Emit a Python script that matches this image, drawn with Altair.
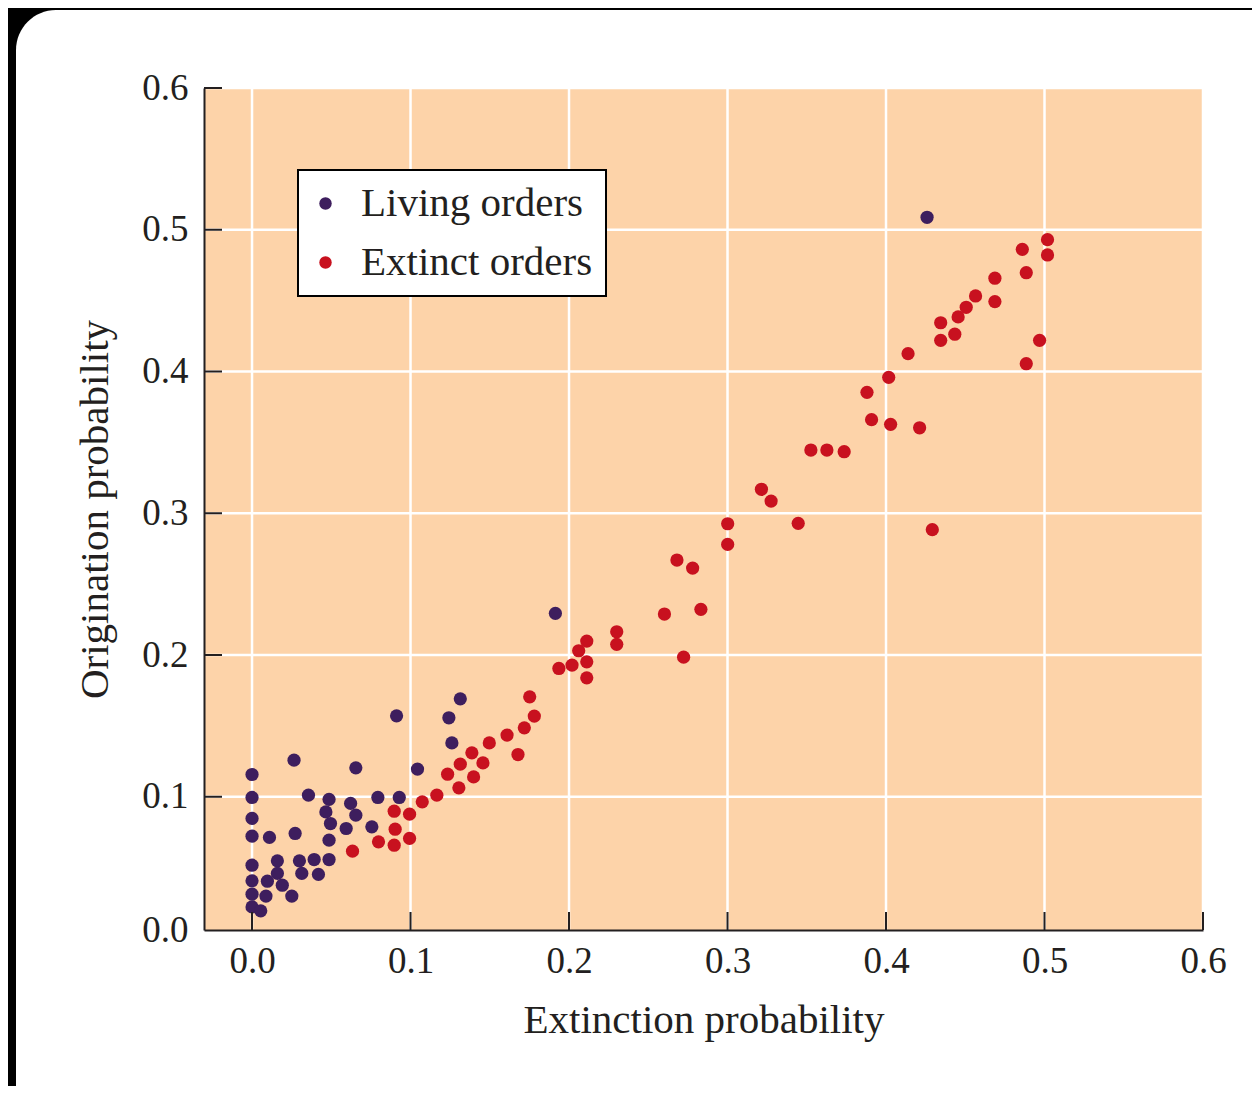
import altair as alt
import pandas as pd

# ---- data ----
living_x = [0.0, 0.0, 0.0, 0.0, 0.0, 0.0, 0.0, 0.0, 0.0055, 0.0088, 0.0097, 0.011,
            0.016, 0.016, 0.0191, 0.0251, 0.0265, 0.0272, 0.0299, 0.0314, 0.0356,
            0.0392, 0.0419, 0.0486, 0.0466, 0.0495, 0.0486, 0.0486, 0.0594, 0.0622,
            0.0655, 0.0655, 0.0756, 0.0794, 0.0912, 0.0929, 0.1044, 0.1242, 0.1261,
            0.1314, 0.1914, 0.4259]
living_y = [0.1157, 0.0995, 0.0847, 0.0722, 0.0517, 0.0407, 0.0313, 0.0223, 0.0195,
            0.0299, 0.0404, 0.0713, 0.0548, 0.0459, 0.0376, 0.0299, 0.1258, 0.0741,
            0.0548, 0.0459, 0.1011, 0.0557, 0.0452, 0.0981, 0.0893, 0.0811, 0.0694,
            0.0557, 0.0776, 0.0953, 0.087, 0.1204, 0.0788, 0.0995, 0.1571, 0.0995,
            0.1195, 0.1557, 0.138, 0.1691, 0.2294, 0.5088]

extinct_x = [0.0634, 0.0798, 0.0897, 0.0903, 0.0897, 0.0994, 0.0994, 0.1074, 0.1166,
             0.1234, 0.1305, 0.1314, 0.1387, 0.1457, 0.1398, 0.1497, 0.1609, 0.1678,
             0.1718, 0.1752, 0.1781,
             0.1936, 0.2019, 0.2061, 0.2112, 0.2112, 0.2112, 0.2301, 0.2301, 0.2602,
             0.2723,
             0.2832, 0.2681, 0.278, 0.3001, 0.3001, 0.3214, 0.3275, 0.3446, 0.3526,
             0.3627, 0.3736, 0.3909, 0.4029, 0.4212, 0.4292,
             0.388, 0.4017, 0.4139, 0.4345, 0.4345, 0.4434, 0.4455, 0.4506, 0.4565,
             0.4687, 0.4687, 0.486, 0.4885, 0.5019, 0.5019, 0.4969, 0.4885]
extinct_y = [0.0616, 0.0682, 0.0898, 0.0771, 0.0658, 0.0877, 0.0706, 0.0964, 0.1011,
             0.1159, 0.1063, 0.123, 0.131, 0.1239, 0.114, 0.138, 0.1435, 0.1298,
             0.1486, 0.1705, 0.1569,
             0.1905, 0.1929, 0.203, 0.2098, 0.1952, 0.1839, 0.2164, 0.2075, 0.2289,
             0.1985,
             0.2322, 0.267, 0.2613, 0.2926, 0.278, 0.3169, 0.3086, 0.2929, 0.3446,
             0.3446, 0.3434, 0.366, 0.3627, 0.3603, 0.2884,
             0.3853, 0.3959, 0.4126, 0.422, 0.4344, 0.4263, 0.4385, 0.4453, 0.4533,
             0.4493, 0.4658, 0.4862, 0.4697, 0.493, 0.4822, 0.422, 0.4055]

groups = ["Living orders", "Extinct orders"]
x_ticks = [0.0, 0.1, 0.2, 0.3, 0.4, 0.5, 0.6]
y_ticks = [0.1, 0.2, 0.3, 0.4, 0.5, 0.6]

# ---- styling ----
W, H = 999, 842
X_DOMAIN = [-0.0303, 0.6]
Y_DOMAIN = [0.006, 0.6]
PURPLE = "#3e1e5e"
RED = "#c8111f"
PEACH = "#fdd3a9"
INK = "#231f20"
FONT = "Liberation Serif"

df = pd.DataFrame({
    "extinction": living_x + extinct_x,
    "origination": living_y + extinct_y,
    "group": [groups[0]] * len(living_x) + [groups[1]] * len(extinct_x),
    "order": [0] * len(living_x) + [1] * len(extinct_x),
})

xscale = alt.Scale(domain=X_DOMAIN, nice=False, zero=False)
yscale = alt.Scale(domain=Y_DOMAIN, nice=False, zero=False)
xaxis = alt.Axis(title="Extinction probability", values=x_ticks, format=".1f",
                 zindex=1, grid=False, ticks=False, labelFlush=False)
yaxis = alt.Axis(title="Origination probability", values=[0.006] + y_ticks,
                 labelExpr="datum.value < 0.05 ? '0.0' : format(datum.value, '.1f')",
                 zindex=1, grid=False, ticks=False, labelFlush=False)

one = alt.Data(values=[{"k": 1}])

panel = alt.Chart(one).mark_rect(fill="white", cornerRadius=40).encode(
    x=alt.value(-188), x2=alt.value(1100), y=alt.value(-78), y2=alt.value(1100)
)
plotbg = alt.Chart(one).mark_rect(fill=PEACH).encode(
    x=alt.value(0), x2=alt.value(W), y=alt.value(0), y2=alt.value(H)
)

xt = alt.Data(values=[{"v": v} for v in x_ticks])
yt = alt.Data(values=[{"v": v} for v in y_ticks])

grid_x = alt.Chart(xt).mark_rule(color="white", strokeWidth=2.5).encode(
    x=alt.X("v:Q", scale=xscale, axis=xaxis), y=alt.value(0), y2=alt.value(H)
)
grid_y = alt.Chart(yt).mark_rule(color="white", strokeWidth=2.5).encode(
    y=alt.Y("v:Q", scale=yscale, axis=yaxis), x=alt.value(0), x2=alt.value(W)
)

points = alt.Chart(df).mark_circle(size=175, opacity=1).encode(
    x=alt.X("extinction:Q", scale=xscale, axis=xaxis),
    y=alt.Y("origination:Q", scale=yscale, axis=yaxis),
    color=alt.Color("group:N",
                    scale=alt.Scale(domain=groups, range=[PURPLE, RED]),
                    legend=alt.Legend(title=None, orient="none", legendX=94, legendY=82)),
    order=alt.Order("order:Q"),
)

tick_x = alt.Chart(xt).mark_rule(color=INK, strokeWidth=2).encode(
    x=alt.X("v:Q", scale=xscale, axis=xaxis), y=alt.value(H), y2=alt.value(H - 18)
)
tick_y = alt.Chart(yt).mark_rule(color=INK, strokeWidth=2).encode(
    y=alt.Y("v:Q", scale=yscale, axis=yaxis), x=alt.value(0), x2=alt.value(18)
)

chart = alt.layer(panel, plotbg, grid_x, grid_y, points, tick_x, tick_y).properties(
    width=W, height=H,
    autosize=alt.AutoSizeParams(type="none"),
    padding={"left": 196, "top": 80, "right": 49, "bottom": 156},
    background="black",
).configure_view(
    strokeWidth=0
).configure_axis(
    domainColor=INK, domainWidth=2,
    labelFont=FONT, labelFontSize=37, labelColor=INK,
    titleFont=FONT, titleFontSize=41, titleFontWeight="normal", titleColor=INK,
).configure_axisX(
    labelPadding=13, titlePadding=21,
).configure_axisY(
    labelPadding=16, titlePadding=25,
).configure_legend(
    fillColor="white", strokeColor="black", strokeWidth=2, padding=13,
    labelFont=FONT, labelFontSize=41, labelColor=INK, labelOffset=15, labelLimit=500,
    symbolSize=155, symbolType="circle", symbolOffset=-6, rowPadding=17,
    cornerRadius=0,
)

chart.save("out.html", embed_options={"renderer": "svg", "actions": False})
